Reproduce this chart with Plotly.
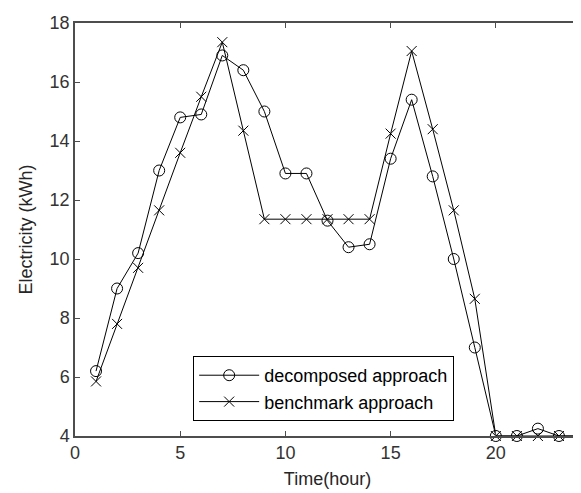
import plotly.graph_objects as go

hours = list(range(1, 25))
decomposed = [6.2, 9.0, 10.2, 13.0, 14.8, 14.9, 16.9, 16.4, 15.0, 12.9, 12.9, 11.3,
              10.4, 10.5, 13.4, 15.4, 12.8, 10.0, 7.0, 4.0, 4.0, 4.25, 4.0, 4.0]
benchmark = [5.85, 7.8, 9.7, 11.65, 13.6, 15.5, 17.35, 14.35, 11.35, 11.35, 11.35, 11.35,
             11.35, 11.35, 14.25, 17.05, 14.4, 11.65, 8.65, 4.0, 4.0, 4.0, 4.0, 4.0]
x_ticks = [0, 5, 10, 15, 20]
y_ticks = [4, 6, 8, 10, 12, 14, 16, 18]

FONT = "Liberation Sans, Arial, sans-serif"
fig = go.Figure()
fig.add_trace(go.Scatter(
    x=hours, y=decomposed, mode="lines+markers", name="decomposed approach",
    line=dict(color="black", width=1), cliponaxis=False,
    marker=dict(symbol="circle-open", size=11, color="black", line=dict(width=1)),
))
fig.add_trace(go.Scatter(
    x=hours, y=benchmark, mode="lines+markers", name="benchmark approach",
    line=dict(color="black", width=1), cliponaxis=False,
    marker=dict(symbol="x-thin-open", size=10, color="black", line=dict(width=1)),
))

axis_common = dict(
    showline=True, linecolor="#4d4d4d", linewidth=1.5, mirror="ticks",
    ticks="inside", ticklen=5, tickcolor="#4d4d4d", showgrid=False, zeroline=False,
    automargin=False,
    tickfont=dict(family=FONT, size=18, color="#333333"),
)
fig.update_xaxes(range=[0, 24], tickvals=x_ticks,
                 title=dict(text="Time(hour)", font=dict(family=FONT, size=18, color="#262626"), standoff=10),
                 **axis_common)
fig.update_yaxes(range=[4, 18], tickvals=y_ticks,
                 title=dict(text="Electricity (kWh)", font=dict(family=FONT, size=18, color="#262626"), standoff=12),
                 **axis_common)

# page body has an 8px default margin, so the figure is 8px smaller and offsets reduced
fig.update_layout(
    width=573, height=485,
    margin=dict(l=67, r=1, t=15, b=57, autoexpand=False),
    paper_bgcolor="white", plot_bgcolor="white",
    showlegend=True,
    legend=dict(x=0.234, y=0.115, xanchor="left", yanchor="middle",
                bgcolor="white", bordercolor="black", borderwidth=1,
                font=dict(family=FONT, size=18, color="black"),
                itemwidth=60, tracegroupgap=0),
)
fig.write_html("out.html")
